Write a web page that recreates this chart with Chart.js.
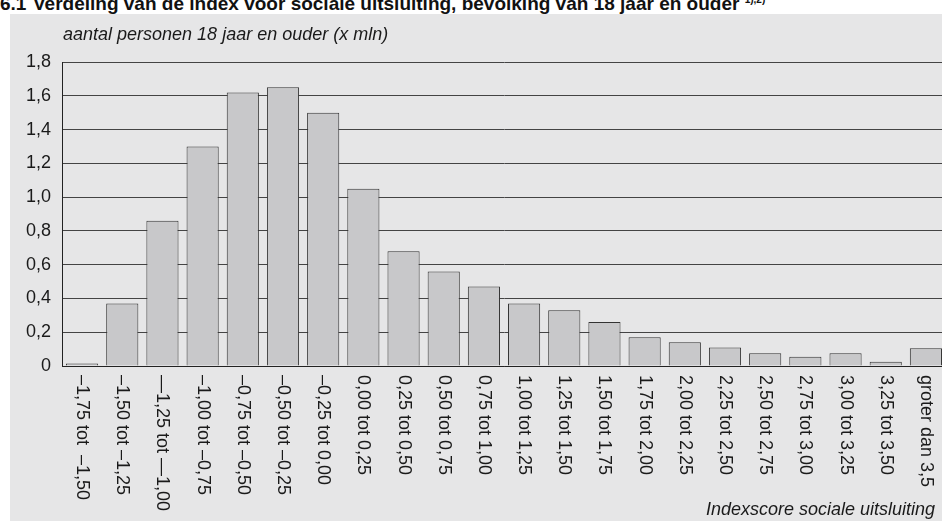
<!DOCTYPE html>
<html>
<head>
<meta charset="utf-8">
<script src="https://cdn.jsdelivr.net/npm/chart.js@4"></script>
<style>
  body { margin: 0; width: 942px; height: 521px; overflow: hidden; background: #fff; font-family: "Liberation Sans", Arial, sans-serif; }
  #title { position: absolute; left: 0; top: -11px; font-weight: bold; font-size: 19px; line-height: 21px; white-space: nowrap; color: #111; }
  #title .num { display: inline-block; width: 33px; }
  #title sup { font-size: 10px; }
  #wrap { position: absolute; left: 10px; top: 14px; width: 936px; height: 507px; background: #e6e6e7; }
</style>
</head>
<body>
<div id="title"><span class="num">6.1</span>Verdeling van de index voor sociale uitsluiting, bevolking van 18 jaar en ouder <sup>1),2)</sup></div>
<div id="wrap"><canvas id="myChart" width="936" height="507"></canvas></div>
<script>
    // categories (index score classes)
    const categories = ['–1,75 tot  –1,50', '–1,50 tot –1,25', '—1,25 tot —1,00', '–1,00 tot –0,75', '–0,75 tot –0,50',
        '–0,50 tot –0,25', '–0,25 tot 0,00', '0,00 tot 0,25', '0,25 tot 0,50', '0,50 tot 0,75', '0,75 tot 1,00',
        '1,00 tot 1,25', '1,25 tot 1,50', '1,50 tot 1,75', '1,75 tot 2,00', '2,00 tot 2,25', '2,25 tot 2,50',
        '2,50 tot 2,75', '2,75 tot 3,00', '3,00 tot 3,25', '3,25 tot 3,50', 'groter dan 3,5'];
    // persons 18+ (x mln)
    const persons = [0.015, 0.37, 0.86, 1.30, 1.62, 1.65, 1.50, 1.05, 0.68, 0.56, 0.47,
        0.37, 0.33, 0.26, 0.17, 0.14, 0.11, 0.075, 0.055, 0.075, 0.025, 0.105];
    const yTitle = 'aantal personen 18 jaar en ouder (x mln)';
    const xTitle = 'Indexscore sociale uitsluiting';

    const FONT = '"Liberation Sans", Arial, sans-serif';

    // draw rotated category labels + axis titles
    const labelsPlugin = {
        id: 'labelsPlugin',
        afterDraw(chart) {
            const ctx = chart.ctx;
            const xs = chart.scales.x;
            ctx.save();
            ctx.fillStyle = '#1a1a1a';
            ctx.font = '18px ' + FONT;
            ctx.textAlign = 'left';
            ctx.textBaseline = 'middle';
            categories.forEach((c, i) => {
                const x = xs.getPixelForValue(i);
                ctx.save();
                ctx.translate(x, xs.top + 9);
                ctx.rotate(Math.PI / 2);
                ctx.fillText(c, 0, 0);
                ctx.restore();
            });
            ctx.font = 'italic 18px ' + FONT;
            ctx.textAlign = 'left';
            ctx.fillText(yTitle, 53, 21);
            ctx.textAlign = 'right';
            ctx.fillText(xTitle, 925, 496);
            ctx.restore();
        }
    };

    const ctx = document.getElementById('myChart').getContext('2d');
    const myChart = new Chart(ctx, {
        type: 'bar',
        data: {
            labels: categories,
            datasets: [{
                data: persons,
                backgroundColor: '#c8c8ca',
                borderColor: '#333',
                borderWidth: 1,
                barPercentage: 0.8,
                categoryPercentage: 1
            }]
        },
        options: {
            responsive: false,
            animation: false,
            layout: { padding: { top: 48, left: 0, right: 0, bottom: 0 } },
            plugins: { legend: { display: false }, tooltip: { enabled: false } },
            scales: {
                x: {
                    afterFit: (s) => { s.height = 155; },
                    ticks: { display: false },
                    grid: { display: false },
                    border: { color: '#222', width: 1 }
                },
                y: {
                    min: 0,
                    max: 1.8,
                    afterFit: (s) => { s.width = 52; },
                    ticks: {
                        stepSize: 0.2,
                        padding: 11,
                        color: '#1a1a1a',
                        font: { size: 18, family: FONT },
                        callback: (v) => v === 0 ? '0' : v.toFixed(1).replace('.', ',')
                    },
                    grid: { color: '#444', drawTicks: false },
                    border: { color: '#222', width: 1 }
                }
            }
        },
        plugins: [labelsPlugin]
    });
</script>
</body>
</html>
